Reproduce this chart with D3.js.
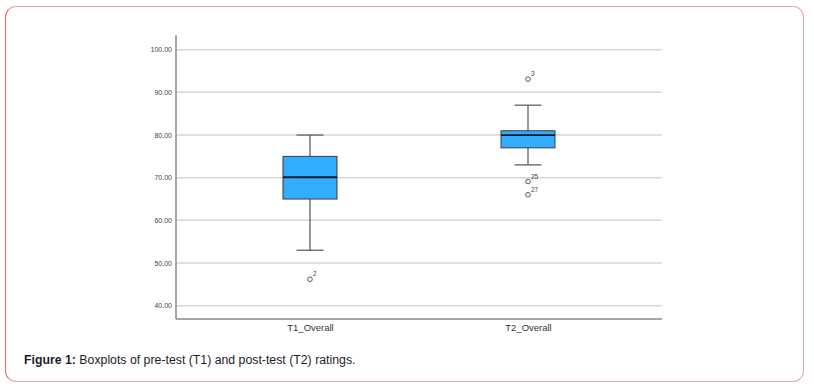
<!DOCTYPE html>
<html>
  <head>
    <style>
      body { margin: 0; background: #fff; }
      .frame {
        position: absolute;
        left: 5px; top: 6px;
        width: 797px; height: 374px;
        border: 1.5px solid #f4a3a3;
        border-left-color: #e86060;
        border-radius: 11px;
        box-sizing: content-box;
      }
      .caption {
        position: absolute;
        left: 24px; top: 353px;
        font: 12.3px "Liberation Sans", Arial, sans-serif;
        color: #1c1c2c;
      }
      .caption b { font-weight: bold; }
      .chart text { font-family: "Liberation Sans", Arial, sans-serif; }
    </style>
  </head>
  <body>
    <div class="frame"></div>
    <svg class="chart" width="814" height="389" style="position:absolute;left:0;top:0"></svg>
    <div class="caption"><b>Figure 1:</b> Boxplots of pre-test (T1) and post-test (T2) ratings.</div>

    <script src="https://d3js.org/d3.v7.min.js"></script>
    <script type="text/javascript">
      const categories = ["T1_Overall", "T2_Overall"];
      const whiskerLow = [53, 73];
      const q1 = [65, 77];
      const median = [70.1, 80];
      const q3 = [75, 81];
      const whiskerHigh = [80, 87];
      const outliers = [
        [{ v: 46.2, id: "2" }],
        [{ v: 93.1, id: "3" }, { v: 69.1, id: "25" }, { v: 66, id: "27" }]
      ];
      const yTicks = [40, 50, 60, 70, 80, 90, 100];

      (function() {
        const svg = d3.select(".chart");
        const left = 176, right = 662;

        const y = d3.scaleLinear().domain([40, 100]).range([305.7, 49.7]);
        const x = d3.scalePoint().domain(categories).range([310, 528]);
        const cx = function(c) { return x(c); };

        // gridlines
        svg.append("g").selectAll("line")
          .data(yTicks)
          .enter().append("line")
          .attr("x1", left).attr("x2", right)
          .attr("y1", y).attr("y2", y)
          .attr("stroke", "#d6d6d6").attr("stroke-width", 1.5);

        // y axis
        const yAxis = svg.append("g")
          .attr("transform", "translate(" + left + ",0)")
          .call(d3.axisLeft(y).tickValues(yTicks).tickSize(0).tickPadding(4)
            .tickFormat(d3.format(".2f")));
        yAxis.select(".domain").remove();
        yAxis.selectAll("text").attr("font-size", 7).attr("fill", "#444");

        svg.append("line")
          .attr("x1", left).attr("x2", left)
          .attr("y1", y(103.4)).attr("y2", y(36.9))
          .attr("stroke", "#8a8a8a").attr("stroke-width", 1.5);

        // x axis
        const xAxis = svg.append("g")
          .attr("transform", "translate(0," + y(36.9) + ")")
          .call(d3.axisBottom(x).tickSize(0).tickPadding(5));
        xAxis.select(".domain").remove();
        xAxis.selectAll("text").attr("font-size", 9.5).attr("fill", "#333");
        svg.append("line")
          .attr("x1", left).attr("x2", right)
          .attr("y1", y(36.9)).attr("y2", y(36.9))
          .attr("stroke", "#8a8a8a").attr("stroke-width", 1.5);

        const boxW = 54, capW = 27;
        const g = svg.append("g").selectAll("g")
          .data(categories)
          .enter().append("g");

        g.append("line")
          .attr("x1", cx).attr("x2", cx)
          .attr("y1", function(d, i) { return y(whiskerHigh[i]); })
          .attr("y2", function(d, i) { return y(whiskerLow[i]); })
          .attr("stroke", "#555").attr("stroke-width", 1.2);

        [whiskerHigh, whiskerLow].forEach(function(arr) {
          g.append("line")
            .attr("x1", function(d) { return cx(d) - capW / 2; })
            .attr("x2", function(d) { return cx(d) + capW / 2; })
            .attr("y1", function(d, i) { return y(arr[i]); })
            .attr("y2", function(d, i) { return y(arr[i]); })
            .attr("stroke", "#555").attr("stroke-width", 1.2);
        });

        g.append("rect")
          .attr("x", function(d) { return cx(d) - boxW / 2; })
          .attr("width", boxW)
          .attr("y", function(d, i) { return y(q3[i]); })
          .attr("height", function(d, i) { return y(q1[i]) - y(q3[i]); })
          .attr("fill", "#33adff").attr("stroke", "#3a3a3a").attr("stroke-width", 1);

        g.append("line")
          .attr("x1", function(d) { return cx(d) - boxW / 2; })
          .attr("x2", function(d) { return cx(d) + boxW / 2; })
          .attr("y1", function(d, i) { return y(median[i]); })
          .attr("y2", function(d, i) { return y(median[i]); })
          .attr("stroke", "#161a26").attr("stroke-width", 1.8);

        // outliers
        categories.forEach(function(c, i) {
          outliers[i].forEach(function(o) {
            svg.append("circle")
              .attr("cx", cx(c)).attr("cy", y(o.v)).attr("r", 2.3)
              .attr("fill", "none").attr("stroke", "#555").attr("stroke-width", 1);
            svg.append("text")
              .attr("x", cx(c) + 3).attr("y", y(o.v) - 3)
              .attr("font-size", 6.5).attr("fill", "#444")
              .text(o.id);
          });
        });
      })()
    </script>
  </body>
</html>
